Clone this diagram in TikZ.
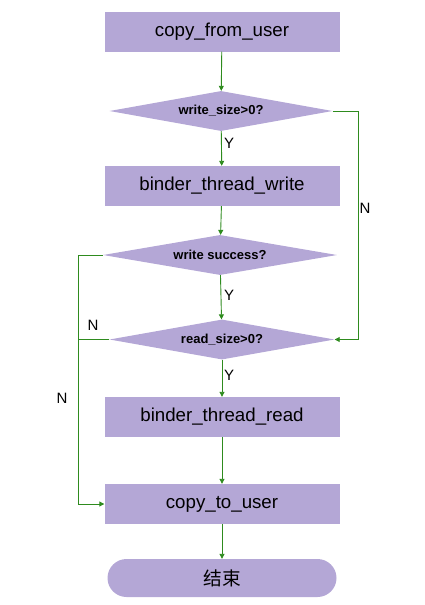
\documentclass[tikz,border=0pt]{standalone}
\usepackage{fontspec}
\setmainfont{Liberation Sans}
\newfontfamily\cjk{Noto Sans CJK SC}
\usetikzlibrary{arrows.meta,shapes.geometric}
\definecolor{boxPurple}{HTML}{B4A7D6}
\definecolor{lineGreen}{HTML}{2E8B1E}

\begin{document}
\begin{tikzpicture}[x=1pt,y=-1pt,
    procbox/.style={fill=boxPurple, minimum width=235pt, minimum height=40pt, inner sep=0pt, font=\fontsize{18.7}{20}\selectfont},
    testbox/.style={diamond, fill=boxPurple, aspect=5.5, minimum width=223pt, minimum height=40pt, inner sep=0pt, font=\fontsize{13}{14}\selectfont\bfseries},
    endbox/.style={fill=boxPurple, rounded corners=19pt, minimum width=229pt, minimum height=38pt, inner sep=0pt, font=\fontsize{18.7}{20}\selectfont\cjk},
    flow/.style={lineGreen, line width=0.9pt, -{Triangle[length=5pt,width=5pt]}},
    plain/.style={lineGreen, line width=0.9pt},
    yn/.style={font=\fontsize{15}{16}\selectfont}]
    \useasboundingbox (0,0) rectangle (425,605);
    % boxes and tests
    \node[procbox] (cfu) at (222,31.5) {copy\_from\_user};
    \node[testbox] (ws) at (221,111) {write\_size>0?};
    \node[procbox] (btw) at (222,186) {binder\_thread\_write};
    \node[testbox, minimum width=234pt] (wsucc) at (220,255) {write success?};
    \node[testbox, minimum width=225pt] (rs) at (222,339.5) {read\_size>0?};
    \node[procbox] (btr) at (222,417) {binder\_thread\_read};
    \node[procbox] (ctu) at (222,504) {copy\_to\_user};
    \node[endbox] (fin) at (222,578) {结束};
    % main line
    \draw[flow] (cfu) -- (ws);
    \draw[flow] (ws) -- (btw);
    \draw[flow] (btw) -- (wsucc);
    \draw[flow] (wsucc) -- (rs);
    \draw[flow] (rs) -- (btr);
    \draw[flow] (btr) -- (ctu);
    \draw[flow] (ctu) -- (fin);
    % loops
    \coordinate (rloop) at (358,111);
    \coordinate (lloop) at (78,255);
    \draw[flow] (ws.east) -- (rloop) |- (rs.east);
    \draw[flow] (wsucc.west) -- (lloop) |- (ctu.west);
    \draw[plain] (rs.west) -- (rs.west -| lloop);
    % labels
    \node[yn] (y1) at (229,143) {Y};
    \node[yn] (y2) at (229,295) {Y};
    \node[yn] (y3) at (229,375) {Y};
    \node[yn] (n1) at (365,208) {N};
    \node[yn] (n2) at (93,325) {N};
    \node[yn] (n3) at (62,398) {N};
\end{tikzpicture}
\end{document}
